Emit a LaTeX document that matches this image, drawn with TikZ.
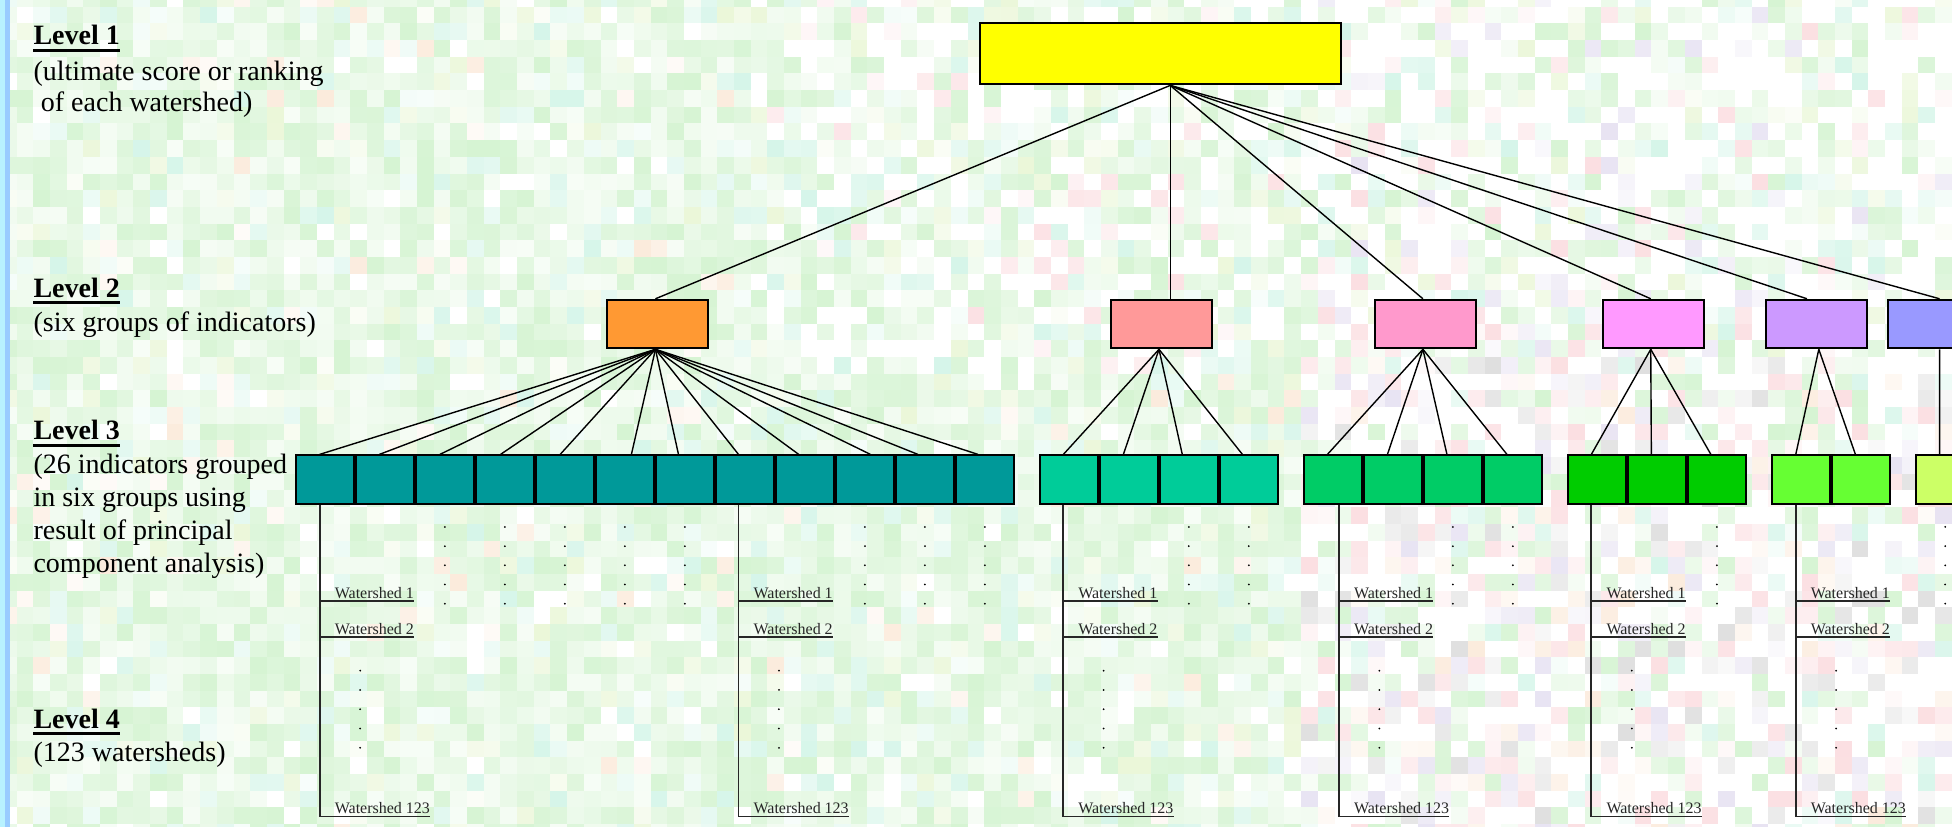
\documentclass[tikz,border=0pt]{standalone}
\usepackage{fontspec}
\setmainfont{Liberation Serif}
\usetikzlibrary{calc}
\newcommand\U{1.2449pt}
% tile colours
\definecolor{mg}{RGB}{200,240,196}
\definecolor{aq}{RGB}{200,242,226}
\definecolor{yg}{RGB}{228,244,204}
\definecolor{pk}{RGB}{250,212,216}
\definecolor{gy}{RGB}{212,212,212}
\definecolor{pc}{RGB}{250,228,208}
\definecolor{lv}{RGB}{224,218,238}
% box colours
\definecolor{yel}{HTML}{FFFF00}
\definecolor{dA}{HTML}{FF9933}
\definecolor{dB}{HTML}{FF9999}
\definecolor{dC}{HTML}{FF99CC}
\definecolor{dD}{HTML}{FF99FF}
\definecolor{dE}{HTML}{CC99FF}
\definecolor{dF}{HTML}{9999FF}
\definecolor{cA}{HTML}{009999}
\definecolor{cB}{HTML}{00CC99}
\definecolor{cC}{HTML}{00CC66}
\definecolor{cD}{HTML}{00CC00}
\definecolor{cE}{HTML}{66FF33}
\definecolor{cF}{HTML}{CCFF66}
\definecolor{barcyan}{HTML}{B8F2FF}
\definecolor{barblue}{HTML}{99CCFF}
\begin{document}
\begin{tikzpicture}[x=1.2449pt, y=-1.2449pt,
  bx/.style={draw=black, line width=2pt, inner sep=0pt, anchor=north west},
  b1/.style={bx, minimum width=290*\U, minimum height=49*\U},
  b2/.style={bx, minimum width=81*\U, minimum height=39*\U},
  b3/.style={bx, minimum width=46.3*\U, minimum height=39*\U},
  conn/.style={draw=black, line width=1.4pt},
  wline/.style={draw=black!85, line width=1.8pt},
  dot/.style={fill=black},
  lvl/.style={anchor=base west, inner sep=0pt, font=\fontsize{28}{33}\selectfont},
  lvlh/.style={anchor=base west, inner sep=0pt, font=\fontsize{28}{33}\selectfont\bfseries},
  ul/.style={draw=black, line width=3pt},
  wlab/.style={anchor=base west, inner sep=0pt, text=black!85, font=\fontsize{16}{19}\selectfont}
]
\useasboundingbox (0,0) rectangle (1568,664);
\clip (0,0) rectangle (1568,664);
% ---------- mosaic background ----------
\fill[mg!40!white] (0,0) rectangle (1568,664);
\pgfmathsetseed{4242}
\foreach \i in {0,...,116}{%
 \foreach \j in {0,...,50}{%
  \pgfmathrandominteger{\rr}{0}{99}%
  \pgfmathrandominteger{\pp}{15}{75}%
  \ifnum\i>77 \ifnum\j>21 \def\reg{3}\else\def\reg{2}\fi
  \else\ifnum\i>44 \ifnum\j<23 \def\reg{1}\else\def\reg{0}\fi\else\def\reg{0}\fi\fi
  \ifcase\reg
    \ifnum\rr<74 \colorlet{tc}{mg!\pp!white}\else
    \ifnum\rr<86 \colorlet{tc}{aq!\pp!white}\else
    \ifnum\rr<92 \colorlet{tc}{yg!\pp!white}\else
    \ifnum\rr<95 \colorlet{tc}{pc!\pp!white}\else
    \colorlet{tc}{white}\fi\fi\fi\fi
  \or
    \ifnum\rr<45 \colorlet{tc}{mg!\pp!white}\else
    \ifnum\rr<58 \colorlet{tc}{aq!\pp!white}\else
    \ifnum\rr<63 \colorlet{tc}{pk!\pp!white}\else
    \ifnum\rr<72 \colorlet{tc}{yg!\pp!white}\else
    \colorlet{tc}{white}\fi\fi\fi\fi
  \or
    \ifnum\rr<42 \colorlet{tc}{white}\else
    \ifnum\rr<68 \colorlet{tc}{mg!\pp!white}\else
    \ifnum\rr<76 \colorlet{tc}{pk!\pp!white}\else
    \ifnum\rr<86 \colorlet{tc}{aq!\pp!white}\else
    \ifnum\rr<92 \colorlet{tc}{lv!\pp!white}\else
    \colorlet{tc}{yg!\pp!white}\fi\fi\fi\fi\fi
  \or
    \ifnum\rr<32 \colorlet{tc}{white}\else
    \ifnum\rr<50 \colorlet{tc}{pk!\pp!white}\else
    \ifnum\rr<62 \colorlet{tc}{gy!\pp!white}\else
    \ifnum\rr<79 \colorlet{tc}{mg!\pp!white}\else
    \ifnum\rr<88 \colorlet{tc}{lv!\pp!white}\else
    \ifnum\rr<94 \colorlet{tc}{pc!\pp!white}\else
    \colorlet{tc}{aq!\pp!white}\fi\fi\fi\fi\fi\fi
  \fi
  \fill[tc] ({\i*13.4},{\j*13.4-8}) rectangle ++(13.5,13.5);
 }}
% left bar
\fill[barcyan] (0,0) rectangle (4,664);
\fill[barblue] (4,0) rectangle (8,664);
% ---------- left labels ----------
\node[lvlh] (h1) at (26.8,36.1) {Level 1};
\node[lvl] (d1a) at (26.8,64.3) {(ultimate score or ranking};
\node[lvl] (d1b) at (32.7,89.7) {of each watershed)};
\node[lvlh] (h2) at (26.8,238.8) {Level 2};
\node[lvl] (d2a) at (26.8,265.9) {(six groups of indicators)};
\node[lvlh] (h3) at (26.8,353.4) {Level 3};
\node[lvl] (d3a) at (26.8,380.5) {(26 indicators grouped};
\node[lvl] (d3b) at (26.8,407) {in six groups using};
\node[lvl] (d3c) at (26.8,433.5) {result of principal};
\node[lvl] (d3d) at (26.8,460) {component analysis)};
\node[lvlh] (h4) at (26.8,585) {Level 4};
\node[lvl] (d4a) at (26.8,611.8) {(123 watersheds)};
\foreach \h in {h1,h2,h3,h4}
  \draw[ul] ([yshift=-5.5pt]\h.base west) -- ([yshift=-5.5pt]\h.base east);
% ---------- level 1 ----------
\node[b1, fill=yel] (L1) at (786,18) {};
\coordinate (ap) at ($(L1.south west)+(154,0)$);
% ---------- level 2 ----------
\foreach \g/\x in {A/487, B/892, C/1104, D/1287, E/1418, F/1516}
  \node[b2, fill=d\g] (L2\g) at (\x,240) {};
\foreach \g/\o in {A/39.5, B/48, C/39, D/39, E/33.5, F/42}
  \draw[conn] (ap) -- ($(L2\g.north west)+(\o,0)$);
\foreach \g/\o in {A/39.5, B/39, C/39, D/39, E/43, F/42}
  \coordinate (p\g) at ($(L2\g.south west)+(\o,0)$);
% ---------- level 3 ----------
\foreach \g/\x/\n in {A/237/12, B/834.6/4, C/1046.7/4, D/1258.8/3, E/1422.5/2, F/1538.6/1}{
  \foreach \k in {1,...,\n}
    \node[b3, fill=c\g] (t\g\k) at ({\x+(\k-1)*48.2},365) {};
}
\foreach \k/\o in {1/19.8,2/19.6,3/20,4/20.5,5/20.2,6/29.2,7/18.8,8/18.8,9/19,10/28.4,11/18.3,12/18.4}
  \draw[conn] (pA) -- ($(tA\k.north west)+(\o,0)$);
\foreach \k/\o in {1/19.6,2/19.6,3/18.7,4/18.8}
  \draw[conn] (pB) -- ($(tB\k.north west)+(\o,0)$);
\foreach \k/\o in {1/19.6,2/19.6,3/19.2,4/19.2}
  \draw[conn] (pC) -- ($(tC\k.north west)+(\o,0)$);
\foreach \k/\o in {1/19.5,2/19.5,3/19.1}
  \draw[conn] (pD) -- ($(tD\k.north west)+(\o,0)$);
\foreach \k/\o in {1/20,2/19.7}
  \draw[conn] (pE) -- ($(tE\k.north west)+(\o,0)$);
\draw[conn] (pF) -- ($(tF1.north west)+(19.4,0)$);
% dots under indicators
\foreach \b in {tA3,tA4,tA5,tA6,tA7,tA10,tA11,tA12,tB3,tB4,tC3,tC4,tD3,tF1}
  \foreach \dy in {17.7,33.1,48.5,63.9,79.3}
    \fill[dot] ($(\b.south)+(0,\dy)$) circle (1pt);
% ---------- level 4 ----------
\foreach \k/\b/\o in {1/tA1/19.8, 2/tA8/18.8, 3/tB1/19.4, 4/tC1/28.8, 5/tD1/19.5, 6/tE1/19.9}{
  \coordinate (wt\k) at ($(\b.south west)+(\o,0)$);
  \node[wlab] (wa\k) at ($(wt\k)+(12,75.2)$) {Watershed 1};
  \node[wlab] (wb\k) at ($(wt\k)+(12,104.2)$) {Watershed 2};
  \node[wlab] (wc\k) at ($(wt\k)+(12,248.2)$) {Watershed 123};
  \coordinate (wae\k) at ([yshift=-2.5pt]wa\k.base east);
  \coordinate (wbe\k) at ([yshift=-2.5pt]wb\k.base east);
  \coordinate (wce\k) at ([yshift=-2.5pt]wc\k.base east);
  \draw[wline] (wt\k) |- (wce\k);
  \draw[wline] (wae\k -| wt\k) -- (wae\k);
  \draw[wline] (wbe\k -| wt\k) -- (wbe\k);
  \foreach \dy in {133.1,148.6,164.1,179.6,195.1}
    \fill[dot] ($(wt\k)+(32.5,\dy)$) circle (1pt);
}
\end{tikzpicture}
\end{document}
